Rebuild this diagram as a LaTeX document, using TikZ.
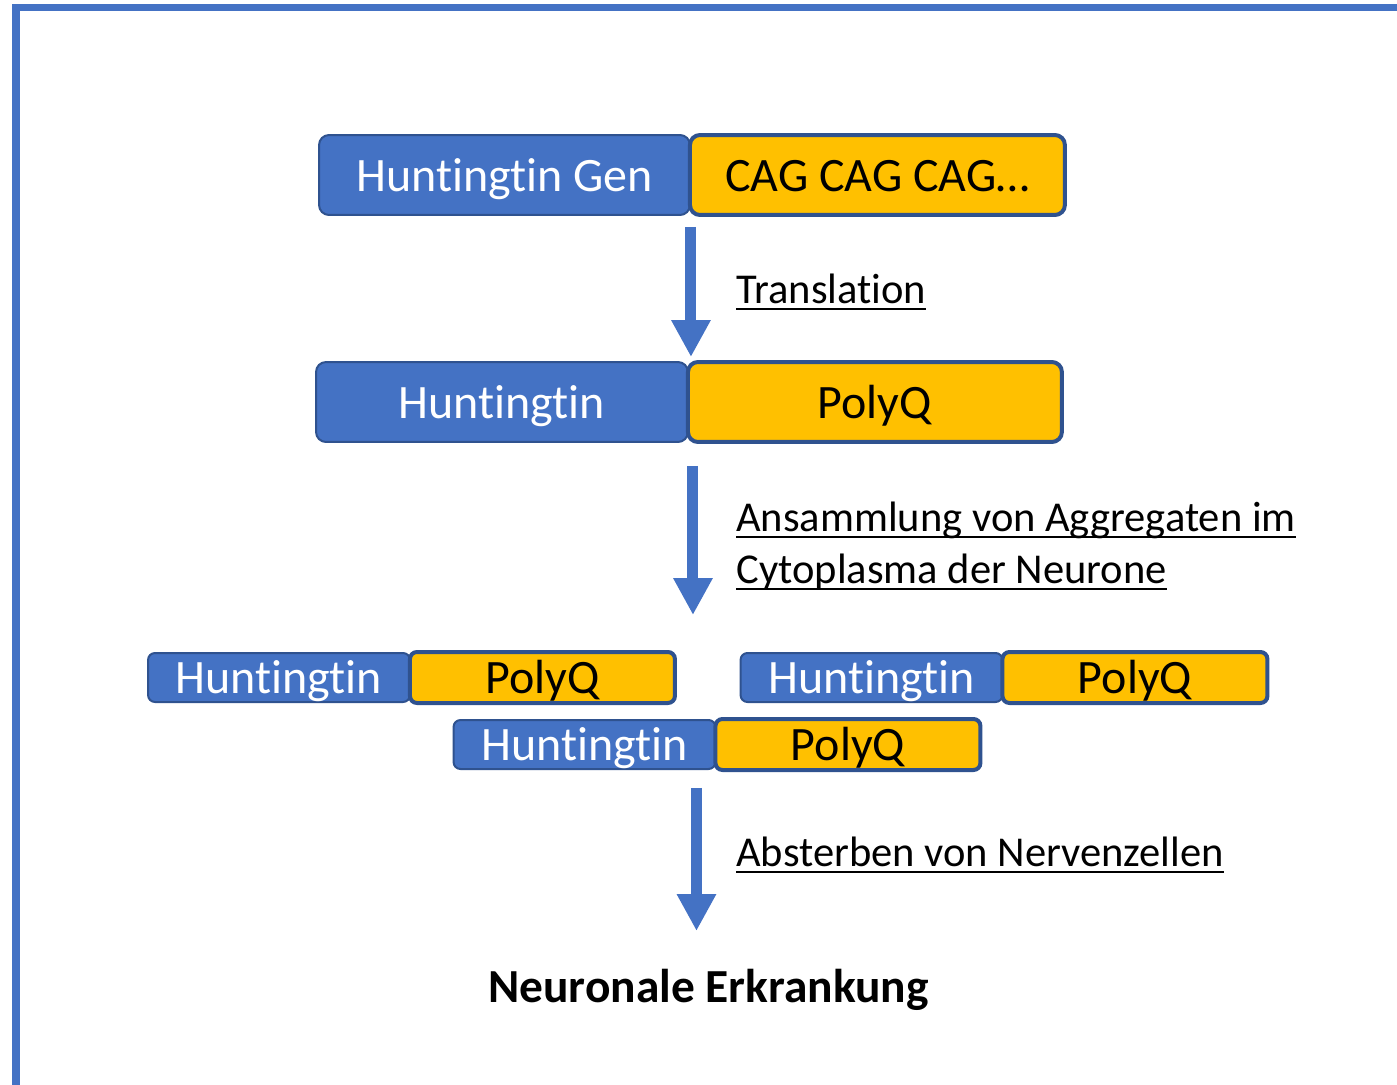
\documentclass[tikz,border=0pt]{standalone}
\usepackage{fontspec}
\setmainfont{Carlito}[Ligatures=NoCommon]
\usetikzlibrary{positioning, arrows.meta}
\definecolor{genblue}{RGB}{68, 114, 196}
\definecolor{edgeblue}{RGB}{47, 82, 143}
\definecolor{polyyellow}{RGB}{255, 192, 0}
\newsavebox{\ulinebox}
\newcommand{\ulined}[1]{\sbox{\ulinebox}{#1}\rlap{\rule[-3.7pt]{\wd\ulinebox}{1.1pt}}\usebox{\ulinebox}}

\tikzset{
    genbox/.style={draw=edgeblue, line width=0.04cm, fill=genblue, text=white,
                   rounded corners=0.2cm, inner sep=0pt, outer sep=0pt,
                   text height=0.65cm, text depth=0pt,
                   font=\fontsize{27.3}{32}\selectfont},
    polybox/.style={genbox, draw=edgeblue, line width=0.08cm, fill=polyyellow, text=black},
    bigbox/.style={minimum height=1.6cm},
    smallbox/.style={minimum height=0.98cm, minimum width=5.24cm, rounded corners=0.14cm},
    flowarrow/.style={draw=genblue, line width=0.22cm, -{Triangle[width=0.74cm, length=0.74cm]}},
    steplabel/.style={anchor=base west, inner sep=0pt, align=left,
                      font=\fontsize{24.2}{29.6}\selectfont}
}

\begin{document}
\begin{tikzpicture}[x=0.02cm, y=-0.02cm]
    \useasboundingbox (0,0) rectangle (1397,1085);
    \clip (0,0) rectangle (1397,1085);
    % outer frame
    \draw[genblue, line width=0.16cm] (16,7.5) rectangle (1450,1140);

    % gene
    \node[genbox, bigbox, minimum width=7.42cm] (hg) at (504.5,175) {Huntingtin Gen};
    \node[polybox, bigbox, minimum width=7.5cm, right=0pt of hg] (cag) {CAG CAG CAG…};

    % protein
    \node[genbox, bigbox, minimum width=7.44cm] (hp) at (502,402) {Huntingtin};
    \node[polybox, bigbox, minimum width=7.48cm, right=0pt of hp] (pq) {PolyQ};

    \draw[flowarrow] ([xshift=0.02cm, yshift=-0.24cm]hg.south east) coordinate (a1)
        -- ([yshift=0.1cm]a1 |- hp.north);
    \node[steplabel] (tr) at (736,303) {\ulined{Translation}};

    % aggregates
    \node[genbox, smallbox] (ag1) at (279,677.5) {Huntingtin};
    \node[polybox, smallbox, minimum width=5.3cm, minimum height=1.02cm, right=0pt of ag1] (ag1q) {PolyQ};
    \node[genbox, smallbox] (ag2) at (871.5,677.5) {Huntingtin};
    \node[polybox, smallbox, minimum width=5.3cm, minimum height=1.02cm, right=0pt of ag2] (ag2q) {PolyQ};
    \node[genbox, smallbox] (ag3) at (584.5,744.5) {Huntingtin};
    \node[polybox, smallbox, minimum width=5.3cm, minimum height=1.02cm, right=0pt of ag3] (ag3q) {PolyQ};

    \draw[flowarrow] ([xshift=0.1cm, yshift=-0.48cm]hp.south east) coordinate (a2)
        -- ([yshift=0.74cm]a2 |- ag1q.north);
    \node[steplabel] (agg) at (736,583) {\ulined{Ansammlung von Aggregaten im}\\\ulined{Cytoplasma der Neurone}};

    % result
    \node[inner sep=0pt, font=\fontsize{27}{32}\selectfont\bfseries] (ne) at (708.5,990) {Neuronale Erkrankung};

    \draw[flowarrow] ([xshift=-0.38cm, yshift=-0.36cm]ag3q.south west) coordinate (a3)
        -- ([yshift=0.76cm]a3 |- ne.north);
    \node[steplabel] (ab) at (736,866) {\ulined{Absterben von Nervenzellen}};
\end{tikzpicture}
\end{document}
